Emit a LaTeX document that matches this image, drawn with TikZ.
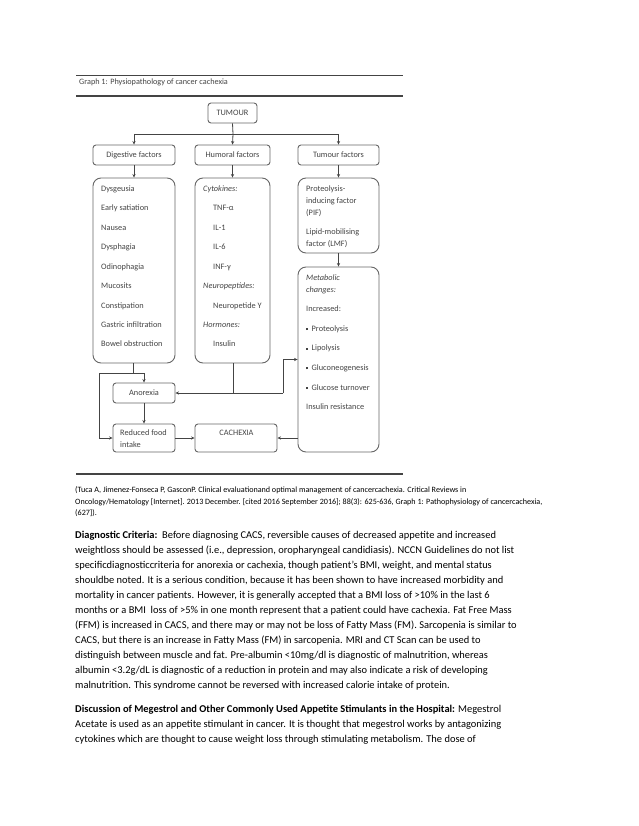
\documentclass[tikz,border=0pt]{standalone}
\usepackage{fontspec}
\setmainfont{Carlito}
\usetikzlibrary{arrows.meta}
\definecolor{dg}{HTML}{444444}
\definecolor{lg}{HTML}{666666}
\newcommand\sqbul{\makebox[5.5pt][l]{\raisebox{1pt}{\rule{2pt}{2pt}}}}
\begin{document}
\begin{tikzpicture}[x=1pt,y=-1pt,
 box/.style={draw=lg, line width=0.9pt, rounded corners=3pt, inner sep=0},
 bigbox/.style={box, rounded corners=8pt},
 lbl/.style={font=\fontsize{8.3}{10}\selectfont, text=dg, inner sep=0},
 ltxt/.style={lbl, anchor=base west},
 con/.style={draw=dg, line width=0.8pt},
 arr/.style={con, -{Stealth[length=3.5pt,width=3.2pt]}},
 body/.style={font=\fontsize{10.45}{14}\selectfont, inner sep=0, anchor=base west},
 citetxt/.style={font=\fontsize{8.1}{10}\selectfont, inner sep=0, anchor=base west},
 hrule/.style={draw=dg}]
\fill[white] (0,0) rectangle (638,826);
\useasboundingbox (0,0) rectangle (638,826);
% rules and caption
\coordinate (r1a) at (76,75.7); \coordinate (r1b) at (403,75.7);
\coordinate (r2a) at (76,95.7); \coordinate (r2b) at (403,95.7);
\coordinate (r3a) at (76,474);  \coordinate (r3b) at (403,474);
\draw[hrule, line width=1pt] (r1a) -- (r1b);
\draw[hrule, line width=1.8pt] (r2a) -- (r2b);
\draw[hrule, line width=1.8pt] (r3a) -- (r3b);
\node[lbl, anchor=base west, font=\fontsize{8.2}{10}\selectfont] (cap) at (79,84.5) {Graph 1: Physiopathology of cancer cachexia};
% boxes
\node[box, lbl, minimum width=49pt, minimum height=20pt] (tum) at (232.5,113) {TUMOUR};
\node[box, lbl, minimum width=82pt, minimum height=20pt] (dig) at (134,155) {Digestive factors};
\node[box, lbl, minimum width=75pt, minimum height=20pt] (hum) at (232.5,155) {Humoral factors};
\node[box, lbl, minimum width=81pt, minimum height=20pt] (tfa) at (338.5,155) {Tumour factors};
\node[bigbox, minimum width=82pt, minimum height=185pt] (dlist) at (134,270.5) {};
\node[bigbox, minimum width=75pt, minimum height=185pt] (hlist) at (232.5,270.5) {};
\node[bigbox, minimum width=81pt, minimum height=75pt] (pif) at (338.5,215.5) {};
\node[bigbox, minimum width=81pt, minimum height=185pt] (meta) at (338.5,359.5) {};
\node[box, lbl, minimum width=62pt, minimum height=20pt] (ano) at (144,393) {Anorexia};
\node[box, minimum width=62pt, minimum height=28pt] (red) at (144,438) {};
\node[box, minimum width=82pt, minimum height=28pt] (cax) at (236,438) {};
\node[ltxt] (redt1) at (120,435.8) {Reduced food};
\node[ltxt] (redt2) at (120,447.6) {intake};
\node[lbl, anchor=base] (caxt) at (236.5,435.8) {CACHEXIA};
% digestive list
\foreach \t [count=\i from 0] in {Dysgeusia,Early satiation,Nausea,Dysphagia,Odinophagia,Mucosits,Constipation,Gastric infiltration,Bowel obstruction}
  \node[ltxt] (dl\i) at (101,191.6+19.4*\i) {\t};
% humoral list
\node[ltxt] (h0) at (203,191.6) {\textit{Cytokines:}};
\node[ltxt] (h1) at (213,211.0) {TNF-α};
\node[ltxt] (h2) at (213,230.4) {IL-1};
\node[ltxt] (h3) at (213,249.8) {IL-6};
\node[ltxt] (h4) at (213,269.2) {INF-γ};
\node[ltxt] (h5) at (203,288.6) {\textit{Neuropeptides:}};
\node[ltxt] (h6) at (213,308.0) {Neuropetide Y};
\node[ltxt] (h7) at (203,327.4) {\textit{Hormones:}};
\node[ltxt] (h8) at (213,346.8) {Insulin};
% tumour factor list
\node[ltxt] (p0) at (306,191.6) {Proteolysis-};
\node[ltxt] (p1) at (306,203.6) {inducing factor};
\node[ltxt] (p2) at (306,215.6) {(PIF)};
\node[ltxt] (p3) at (306,234.6) {Lipid-mobilising};
\node[ltxt] (p4) at (306,246.6) {factor (LMF)};
% metabolic list
\node[ltxt] (m0) at (306,280.6) {\textit{Metabolic}};
\node[ltxt] (m1) at (306,292.6) {\textit{changes:}};
\node[ltxt] (m2) at (306,311.6) {Increased:};
\node[ltxt] (m3) at (306,331.2) {\sqbul Proteolysis};
\node[ltxt] (m4) at (306,350.8) {\sqbul Lipolysis};
\node[ltxt] (m5) at (306,370.4) {\sqbul Gluconeogenesis};
\node[ltxt] (m6) at (306,390.0) {\sqbul Glucose turnover};
\node[ltxt] (m7) at (306,409.6) {Insulin resistance};
% connectors
\coordinate (br) at (233,134);
\draw[con] (tum.south) -- (br);
\draw[con] (dig.north |- br) -- (tfa.north |- br);
\draw[arr] (dig.north |- br) -- (dig.north);
\draw[arr] (br) -- (hum.north);
\draw[arr] (tfa.north |- br) -- (tfa.north);
\draw[arr] (dig.south) -- (dlist.north);
\draw[arr] (hum.south) -- (hlist.north);
\draw[arr] (tfa.south) -- (pif.north);
\draw[arr] (pif.south) -- (meta.north);
\coordinate (dj) at (133,373);
\coordinate (dl) at (99,373);
\draw[con] (dlist.south -| dj) -- (dj);
\draw[con] (dl) -- (ano.north |- dj);
\draw[arr] (ano.north |- dj) -- (ano.north);
\draw[arr] (dl) -- (dl |- red.west) -- (red.west);
\draw[arr] (ano.south) -- (red.north);
\draw[arr] (red.east) -- (cax.west);
\coordinate (hj) at (233,393);
\coordinate (hr) at (283,393);
\draw[con] (hlist.south -| hj) -- (hj);
\draw[arr] (hr) -- (ano.east);
\draw[arr] (hr) -- (hr |- meta.west) -- (meta.west);
\draw[arr] (meta.west |- cax.east) -- (cax.east);
% citation
\node[citetxt] (c1) at (75,492.5) {(Tuca A, Jimenez-Fonseca P, GasconP. Clinical evaluationand optimal management of cancercachexia. Critical Reviews in};
\node[citetxt] (c2) at (75,504.3) {Oncology/Hematology [Internet]. 2013 December. [cited 2016 September 2016]; 88(3): 625-636, Graph 1: Pathophysiology of cancercachexia,};
\node[citetxt] (c3) at (75,515) {(627]).};
% body text
\node[body] (b1) at (75,538) {\textbf{Diagnostic Criteria:}\ \ Before diagnosing CACS, reversible causes of decreased appetite and increased};
\node[body] (b2) at (75,553.05) {weightloss should be assessed (i.e., depression, oropharyngeal candidiasis). NCCN Guidelines do not list};
\node[body] (b3) at (75,568.1) {specificdiagnosticcriteria for anorexia or cachexia, though patient’s BMI, weight, and mental status};
\node[body] (b4) at (75,583.15) {shouldbe noted. It is a serious condition, because it has been shown to have increased morbidity and};
\node[body] (b5) at (75,598.2) {mortality in cancer patients. However, it is generally accepted that a BMI loss of >10\% in the last 6};
\node[body] (b6) at (75,613.25) {months or a BMI\ \ loss of >5\% in one month represent that a patient could have cachexia. Fat Free Mass};
\node[body] (b7) at (75,628.3) {(FFM) is increased in CACS, and there may or may not be loss of Fatty Mass (FM). Sarcopenia is similar to};
\node[body] (b8) at (75,643.35) {CACS, but there is an increase in Fatty Mass (FM) in sarcopenia. MRI and CT Scan can be used to};
\node[body] (b9) at (75,658.4) {distinguish between muscle and fat. Pre-albumin <10mg/dl is diagnostic of malnutrition, whereas};
\node[body] (b10) at (75,673.45) {albumin <3.2g/dL is diagnostic of a reduction in protein and may also indicate a risk of developing};
\node[body] (b11) at (75,688.5) {malnutrition. This syndrome cannot be reversed with increased calorie intake of protein.};
\node[body] (b12) at (75,712) {\textbf{Discussion of Megestrol and Other Commonly Used Appetite Stimulants in the Hospital:} Megestrol};
\node[body] (b13) at (75,727) {Acetate is used as an appetite stimulant in cancer. It is thought that megestrol works by antagonizing};
\node[body] (b14) at (75,742.2) {cytokines which are thought to cause weight loss through stimulating metabolism. The dose of};
\end{tikzpicture}
\end{document}
